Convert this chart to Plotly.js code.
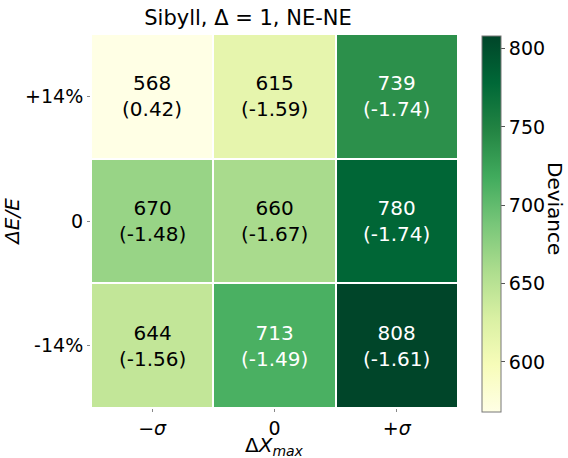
<!DOCTYPE html>
<html>
<head>
<meta charset="utf-8">
<script src="https://cdn.plot.ly/plotly-3.0.1.min.js"></script>
<style>html,body{margin:0;padding:0;background:#fff;}#chart{width:568px;height:458px;}</style>
</head>
<body>
<div id="chart"></div>
<script>
// Shower-shift grid: rows are energy-scale shifts, columns are Xmax shifts
const xLabels = ["\u2212<i>\u03c3</i>", "0", "+<i>\u03c3</i>"];
const yLabels = ["-14%", "0", "+14%"];
const deviance = [
  [644, 713, 808],
  [670, 660, 780],
  [568, 615, 739]
];
const shifts = [
  ["-1.56", "-1.49", "-1.61"],
  ["-1.48", "-1.67", "-1.74"],
  ["0.42", "-1.59", "-1.74"]
];
const colorbarTicks = [600, 650, 700, 750, 800];

// matplotlib YlGn
const ylgn = ["#ffffe5", "#f7fcb9", "#d9f0a3", "#addd8e", "#78c679", "#41ab5d", "#238443", "#006837", "#004529"];
const colorscale = ylgn.map((c, i) => [i / (ylgn.length - 1), c]);

const flat = deviance.flat();
const zmin = Math.min(...flat), zmax = Math.max(...flat);

// plot area in pixels
const W = 568, H = 458, L = 91, R = 110, T = 34, B = 50;
const pw = W - L - R, ph = H - T - B;

const annotations = [];
deviance.forEach((row, r) => row.forEach((v, c) => {
  const frac = (v - zmin) / (zmax - zmin);
  annotations.push({
    x: c, y: r, xref: "x", yref: "y",
    text: v + "<br>(" + shifts[r][c] + ")",
    showarrow: false,
    font: {family: "DejaVu Sans", size: 20, color: frac > 0.6 ? "#ffffff" : "#000000"}
  });
}));

// colorbar label, reading top to bottom
annotations.push({
  xref: "paper", yref: "paper",
  x: (555 - L) / pw, y: (H - B - 208) / ph,
  xanchor: "center", yanchor: "middle",
  text: "Deviance", textangle: 90, showarrow: false,
  font: {family: "DejaVu Sans", size: 20, color: "#000"}
});

// x-axis label
annotations.push({
  xref: "paper", yref: "paper",
  x: 0.5, y: (H - B - 446) / ph,
  xanchor: "center", yanchor: "middle",
  text: "\u0394<i>X</i><sub><i>max</i></sub>", showarrow: false,
  font: {family: "DejaVu Sans", size: 20, color: "#000"}
});

const trace = {
  type: "heatmap",
  z: deviance,
  x: [0, 1, 2],
  y: [0, 1, 2],
  zmin: zmin, zmax: zmax,
  colorscale: colorscale,
  xgap: 2, ygap: 2,
  hoverinfo: "skip",
  colorbar: {
    x: (482 - L) / pw, xanchor: "left",
    y: (H - B - 412) / ph, yanchor: "bottom",
    len: 376 / ph, lenmode: "fraction",
    thickness: 19, thicknessmode: "pixels",
    outlinewidth: 1, outlinecolor: "#777",
    ticks: "outside", ticklen: 4, tickcolor: "#555",
    tickvals: colorbarTicks,
    tickfont: {family: "DejaVu Sans", size: 19, color: "#000"},
    xpad: 0, ypad: 0
  }
};

const layout = {
  width: W, height: H,
  margin: {l: L, r: R, t: T, b: B},
  paper_bgcolor: "#fff", plot_bgcolor: "#fff",
  font: {family: "DejaVu Sans", color: "#000"},
  title: {
    text: "Sibyll, \u0394 = 1, NE-NE",
    font: {family: "DejaVu Sans", size: 21, color: "#000"},
    xref: "paper", x: (248 - L) / pw, xanchor: "center",
    yref: "container", y: 1 - 18 / H, yanchor: "middle"
  },
  xaxis: {
    tickvals: [0, 1, 2], ticktext: xLabels,
    range: [-0.5, 2.5], showgrid: false, zeroline: false,
    ticks: "outside", ticklen: 3, tickcolor: "#888",
    tickfont: {size: 19, family: "DejaVu Sans"}
  },
  yaxis: {
    tickvals: [0, 1, 2], ticktext: yLabels,
    range: [-0.5, 2.5], showgrid: false, zeroline: false,
    ticks: "outside", ticklen: 3, tickcolor: "#888",
    tickfont: {size: 19, family: "DejaVu Sans"},
    title: {text: "<i>\u0394E/E</i>", font: {size: 20, family: "DejaVu Sans"}, standoff: 12}
  },
  annotations: annotations
};

Plotly.newPlot("chart", [trace], layout, {displayModeBar: false, staticPlot: true});
</script>
</body>
</html>
